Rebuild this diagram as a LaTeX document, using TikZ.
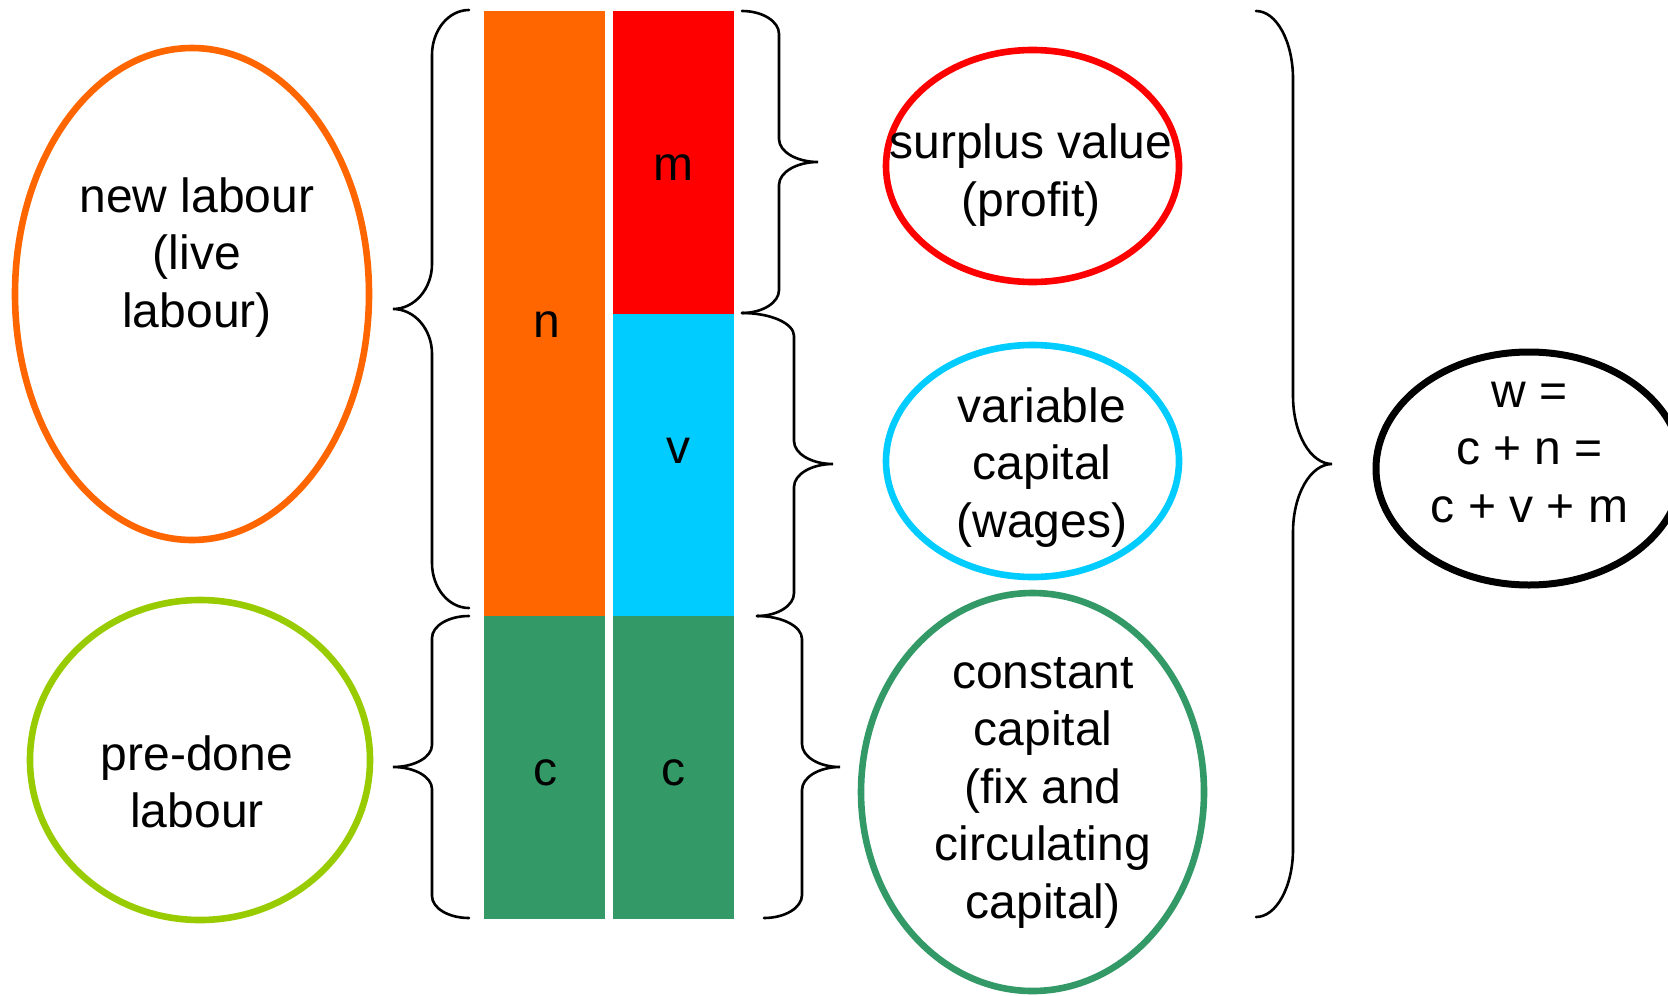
\documentclass[tikz,border=0pt]{standalone}
\usepackage{fontspec}
\setmainfont{Liberation Sans}
\usetikzlibrary{shapes.geometric}
\definecolor{corange}{HTML}{FF6600}
\definecolor{cred}{HTML}{FF0000}
\definecolor{ccyan}{HTML}{00CCFF}
\definecolor{cgreen}{HTML}{339966}
\definecolor{clime}{HTML}{99CC00}
% brace: #1 top-end x, #2 bottom-end x, #3 spine x, #4 tip x, #5 top y, #6 tip y, #7 bottom y, #8 arc height
\newcommand\mybrc[8]{%
  \draw[brc] (#1,#5) .. controls ({#1+0.552*(#3-#1)},#5) and (#3,{#5+0.448*#8}) .. (#3,{#5+#8})
    -- (#3,{#6-#8}) .. controls (#3,{#6-0.448*#8}) and ({#4-0.552*(#4-#3)},#6) .. (#4,#6)
    .. controls ({#4-0.552*(#4-#3)},#6) and (#3,{#6+0.448*#8}) .. (#3,{#6+#8})
    -- (#3,{#7-#8}) .. controls (#3,{#7-0.448*#8}) and ({#2+0.552*(#3-#2)},#7) .. (#2,#7);}
\newcommand\mlines[1]{\begin{tabular}[t]{@{}c@{}}#1\end{tabular}}
\begin{document}
\begin{tikzpicture}[x=0.5pt,y=-0.5pt,
  lbl/.style={inner sep=0pt, anchor=base, font=\fontsize{24}{28.75}\selectfont},
  ring/.style={ellipse, draw, line width=3.3pt, inner sep=0pt},
  brc/.style={line width=1.3pt, line cap=round}]
\useasboundingbox (0,0) rectangle (1668,995);
\clip (0,0) rectangle (1668,995);
\fill[white] (0,0) rectangle (1668,995);

% columns
\fill[corange] (484,11) rectangle (605,616);
\fill[cgreen] (484,616) rectangle (605,919);
\fill[cred] (613,11) rectangle (734,314);
\fill[ccyan] (613,314) rectangle (734,616);
\fill[cgreen] (613,616) rectangle (734,919);

\node[lbl] (ln) at (547,337) {n};
\node[lbl] (lm) at (673,180) {m};
\node[lbl] (lv) at (678,463) {v};
\node[lbl] (lc1) at (545,785) {c};
\node[lbl] (lc2) at (673,785) {c};

% braces
\mybrc{469}{469}{432}{393}{10}{309}{608}{45}
\mybrc{469}{469}{432}{393}{616}{767}{918}{22}
\mybrc{742}{742}{779}{818}{11}{162}{313}{23}
\mybrc{742}{757}{794}{833}{313}{464}{616}{23}
\mybrc{757}{764}{802}{840}{616}{767}{918}{23}
\mybrc{1256}{1256}{1293}{1332}{11}{464}{917}{68}

% ellipses
\node[ring, draw=corange, minimum width=177pt, minimum height=246pt] (e1) at (192,294) {};
\node[ring, draw=clime, minimum width=170pt, minimum height=160pt] (e2) at (200,760) {};
\node[ring, draw=cred, minimum width=146.5pt, minimum height=116pt] (e3) at (1032.5,166) {};
\node[ring, draw=ccyan, minimum width=146.5pt, minimum height=116pt] (e4) at (1032.5,461) {};
\node[ring, draw=cgreen, minimum width=171.5pt, minimum height=199pt] (e5) at (1032.5,792) {};
\node[ring, draw=black, line width=3.5pt, minimum width=153pt, minimum height=116.5pt] (e6) at (1529,468.5) {};

% texts
\node[lbl] (t1) at (197,212) {\mlines{new labour\\(live\\labour)}};
\node[lbl] (t2) at (197,770) {\mlines{pre-done\\labour}};
\node[lbl] (t3) at (1031,158.5) {\mlines{surplus value\\(profit)}};
\node[lbl] (t4) at (1042,422) {\mlines{variable\\capital\\(wages)}};
\node[lbl] (t5) at (1043,688) {\mlines{constant\\capital\\(fix and\\circulating\\capital)}};
\node[lbl] (t6) at (1529.5,407) {\mlines{w =\\c + n =\\c + v + m}};
\end{tikzpicture}
\end{document}
